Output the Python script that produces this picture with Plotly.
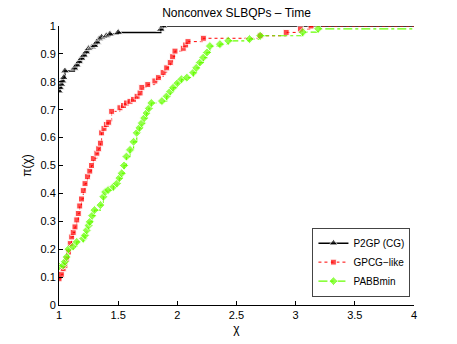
import plotly.graph_objects as go

# P2GP (CG)
p2gp_x = [1.00, 1.01, 1.02, 1.03, 1.04, 1.05, 1.13, 1.15, 1.17, 1.19, 1.21, 1.23, 1.25, 1.28,
          1.30, 1.32, 1.34, 1.36, 1.40, 1.43, 1.50, 1.86, 1.88, 4.00]
p2gp_y = [0.767, 0.779, 0.791, 0.803, 0.815, 0.839, 0.849, 0.860, 0.872, 0.884, 0.895, 0.907, 0.919, 0.925,
          0.930, 0.942, 0.954, 0.960, 0.965, 0.971, 0.977, 0.988, 1.000, 1.000]

# GPCG-like
gpcg_x = [1.00, 1.02, 1.035, 1.05, 1.065, 1.08, 1.095, 1.107, 1.12, 1.135, 1.15, 1.163, 1.175, 1.19,
          1.205, 1.22, 1.24, 1.26, 1.275, 1.29, 1.32, 1.335, 1.35, 1.36, 1.38, 1.40, 1.42, 1.445,
          1.515, 1.545, 1.57, 1.60, 1.63, 1.66, 1.685, 1.70, 1.75, 1.81, 1.84, 1.88, 1.91, 1.94,
          1.96, 1.98, 2.05, 2.07, 2.09, 2.22, 2.70, 2.92, 3.04, 3.13, 4.00]
gpcg_y = [0.094, 0.110, 0.130, 0.142, 0.165, 0.190, 0.220, 0.244, 0.260, 0.280, 0.305, 0.328, 0.355, 0.380,
          0.410, 0.435, 0.460, 0.480, 0.500, 0.525, 0.544, 0.560, 0.580, 0.617, 0.633, 0.647, 0.655, 0.694,
          0.707, 0.715, 0.724, 0.730, 0.737, 0.748, 0.760, 0.780, 0.790, 0.803, 0.815, 0.833, 0.850, 0.869,
          0.890, 0.910, 0.920, 0.932, 0.944, 0.956, 0.965, 0.977, 0.989, 1.000, 1.000]

# PABBmin
pabb_x = [1.00, 1.035, 1.05, 1.065, 1.08, 1.12, 1.15, 1.205, 1.22, 1.235, 1.25, 1.26, 1.28, 1.30,
          1.35, 1.375, 1.39, 1.415, 1.46, 1.49, 1.51, 1.53, 1.55, 1.57, 1.60, 1.63, 1.657, 1.68,
          1.70, 1.72, 1.74, 1.76, 1.78, 1.87, 1.91, 1.94, 1.965, 2.00, 2.035, 2.08, 2.135, 2.16,
          2.19, 2.22, 2.25, 2.275, 2.36, 2.43, 2.61, 2.70, 3.06, 3.19, 4.00]
pabb_y = [0.138, 0.142, 0.155, 0.172, 0.200, 0.210, 0.226, 0.238, 0.250, 0.268, 0.285, 0.298, 0.320, 0.340,
          0.358, 0.388, 0.405, 0.412, 0.424, 0.436, 0.455, 0.472, 0.500, 0.532, 0.556, 0.585, 0.617, 0.635,
          0.652, 0.670, 0.688, 0.705, 0.724, 0.731, 0.748, 0.765, 0.779, 0.795, 0.809, 0.815, 0.833, 0.850,
          0.869, 0.887, 0.905, 0.928, 0.935, 0.947, 0.953, 0.965, 0.978, 0.990, 0.990]

x_ticks = [1, 1.5, 2, 2.5, 3, 3.5, 4]
x_tick_labels = ["1", "1.5", "2", "2.5", "3", "3.5", "4"]
y_ticks = [0, 0.1, 0.2, 0.3, 0.4, 0.5, 0.6, 0.7, 0.8, 0.9, 1]
y_tick_labels = ["0", "0.1", "0.2", "0.3", "0.4", "0.5", "0.6", "0.7", "0.8", "0.9", "1"]

FONT = "Liberation Sans, Arial, Helvetica, sans-serif"


def sizes(n, s):
    return [s] * (n - 1) + [0]


fig = go.Figure()
fig.add_trace(go.Scatter(
    x=p2gp_x, y=p2gp_y, name="P2GP (CG)", mode="lines+markers", line_shape="hv",
    line=dict(color="black", width=1.5),
    marker=dict(symbol="triangle-up", color="black", size=sizes(len(p2gp_x), 8)),
))
fig.add_trace(go.Scatter(
    x=gpcg_x, y=gpcg_y, name="GPCG\u2212like", mode="lines+markers", line_shape="hv",
    line=dict(color="#ff0000", width=1, dash="dot"),
    marker=dict(symbol="square", color="#ff0000", size=sizes(len(gpcg_x), 6)),
))
fig.add_trace(go.Scatter(
    x=pabb_x, y=pabb_y, name="PABBmin", mode="lines+markers", line_shape="hv",
    line=dict(color="#66ff00", width=1.2, dash="dashdot"),
    marker=dict(symbol="diamond", color="#66ff00", size=sizes(len(pabb_x), 7)),
))

fig.update_layout(
    width=457, height=344,
    margin=dict(l=59, r=43, t=26, b=39, autoexpand=False),
    paper_bgcolor="white", plot_bgcolor="white",
    font=dict(family=FONT, size=11, color="black"),
    title=dict(text="Nonconvex SLBQPs \u2013 Time", x=0.5175, xanchor="center",
               y=0.963, yanchor="middle", font=dict(size=12)),
    showlegend=True,
    legend=dict(x=0.99, y=0.03, xanchor="right", yanchor="bottom",
                bgcolor="white", bordercolor="#444", borderwidth=1,
                font=dict(size=10), tracegroupgap=0, itemwidth=30),
)
fig.update_xaxes(
    range=[1, 4], tickvals=x_ticks, ticktext=x_tick_labels,
    showgrid=False, zeroline=False, showline=True, linecolor="black", linewidth=1,
    ticks="inside", ticklen=4, tickcolor="black", automargin=False,
    title=dict(text="\u03c7", standoff=4, font=dict(size=12)),
)
fig.update_yaxes(
    range=[0, 1], tickvals=y_ticks, ticktext=y_tick_labels,
    showgrid=False, zeroline=False, showline=True, linecolor="black", linewidth=1,
    ticks="inside", ticklen=4, tickcolor="black", automargin=False,
    title=dict(text="\u03c0(\u03c7)", standoff=6, font=dict(size=12)),
)

fig.write_html("out.html", config={"displayModeBar": False},
               post_script="document.body.style.margin='0';document.body.style.overflow='hidden';")
